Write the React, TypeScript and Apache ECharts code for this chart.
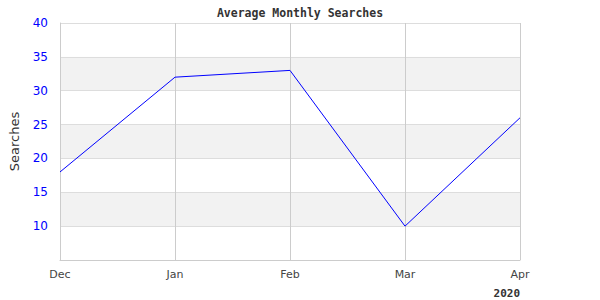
import React, { useEffect, useRef } from "react";
import * as echarts from "echarts";

const categories = ["Dec", "Jan", "Feb", "Mar", "Apr"];
const searches = [18, 32, 33, 10, 26];
const yearLabel = "2020";

export default function App() {
  const ref = useRef<HTMLDivElement>(null);
  useEffect(() => {
    const chart = echarts.init(ref.current!, null, { renderer: "svg" });
    chart.setOption({
      animation: false,
      title: {
        text: "Average Monthly Searches",
        left: "center",
        top: 2,
        textStyle: { fontFamily: "DejaVu Sans Mono", fontWeight: "bold", fontSize: 11.5, color: "#333" },
      },
      graphic: [
        {
          type: "text",
          right: 80,
          top: 288,
          style: { text: yearLabel, font: "bold 11px 'DejaVu Sans Mono'", fill: "#333" },
        },
      ],
      grid: { left: 60, right: 80, top: 23, bottom: 40 },
      xAxis: {
        type: "category",
        data: categories,
        boundaryGap: false,
        axisLine: { lineStyle: { color: "#ccc" } },
        axisTick: { show: false },
        axisLabel: { color: "#444", fontFamily: "DejaVu Sans", fontSize: 11, margin: 9 },
        splitLine: { show: true, lineStyle: { color: "#ccc" } },
      },
      yAxis: {
        type: "value",
        min: 5,
        max: 40,
        interval: 5,
        name: "Searches",
        nameLocation: "middle",
        nameGap: 39,
        nameTextStyle: { fontFamily: "DejaVu Sans", fontSize: 13, color: "#333" },
        axisLine: { show: true, lineStyle: { color: "#ccc" } },
        axisTick: { show: false },
        axisLabel: { color: "#0000ff", fontFamily: "DejaVu Sans", fontSize: 12, margin: 12, showMinLabel: false },
        splitLine: { show: true, lineStyle: { color: "#ddd" } },
        splitArea: { show: true, areaStyle: { color: ["#ffffff", "#f2f2f2"] } },
      },
      series: [
        {
          type: "line",
          data: searches,
          showSymbol: false,
          symbol: "none",
          lineStyle: { color: "#0000ff", width: 1 },
        },
      ],
    });
    return () => chart.dispose();
  }, []);
  return <div ref={ref} style={{ width: 600, height: 300, position: "absolute", left: 0, top: 0 }} />;
}
